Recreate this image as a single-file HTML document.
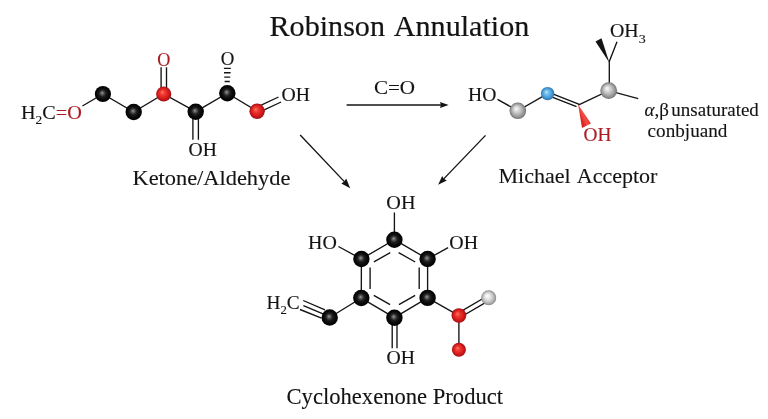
<!DOCTYPE html>
<html lang="en">
<head>
<meta charset="utf-8">
<title>Robinson Annulation</title>
<style>
  html, body { margin: 0; padding: 0; background: #ffffff; }
  body { width: 768px; height: 419px; overflow: hidden; }
  svg { display: block; will-change: transform; }
  text { font-family: "Liberation Serif", "Times New Roman", serif; fill: #141414; stroke: #141414; stroke-width: 0.12px; }
  #title { stroke-width: 0.2px; }
  .bond { stroke: #141414; stroke-width: 1.35; fill: none; stroke-linecap: butt; }
  .red, .red tspan { fill: #a81c22; stroke: #a81c22; }
</style>
</head>
<body>
<svg width="768" height="419" viewBox="0 0 768 419">
  <defs>
    <radialGradient id="gBlack" cx="0.5" cy="0.5" r="0.5" fx="0.45" fy="0.43">
      <stop offset="0" stop-color="#9a9a9a"/>
      <stop offset="0.18" stop-color="#5e5e5e"/>
      <stop offset="0.42" stop-color="#1e1e1e"/>
      <stop offset="0.7" stop-color="#0a0a0a"/>
      <stop offset="1" stop-color="#000000"/>
    </radialGradient>
    <radialGradient id="gRed" cx="0.5" cy="0.5" r="0.5" fx="0.39" fy="0.37">
      <stop offset="0" stop-color="#fb7a68"/>
      <stop offset="0.3" stop-color="#ee3c32"/>
      <stop offset="0.62" stop-color="#de201e"/>
      <stop offset="0.88" stop-color="#b81418"/>
      <stop offset="1" stop-color="#9a1018"/>
    </radialGradient>
    <radialGradient id="gGray" cx="0.5" cy="0.5" r="0.5" fx="0.39" fy="0.35">
      <stop offset="0" stop-color="#fbfbfb"/>
      <stop offset="0.28" stop-color="#dcdcdc"/>
      <stop offset="0.62" stop-color="#b0b0b0"/>
      <stop offset="0.9" stop-color="#858585"/>
      <stop offset="1" stop-color="#6c6c6c"/>
    </radialGradient>
    <radialGradient id="gBlue" cx="0.5" cy="0.5" r="0.5" fx="0.40" fy="0.37">
      <stop offset="0" stop-color="#c4e8fb"/>
      <stop offset="0.3" stop-color="#78c0ec"/>
      <stop offset="0.65" stop-color="#4ba0da"/>
      <stop offset="0.9" stop-color="#3782bd"/>
      <stop offset="1" stop-color="#2e6fa6"/>
    </radialGradient>
    <radialGradient id="gGray2" cx="0.5" cy="0.5" r="0.5" fx="0.39" fy="0.35">
      <stop offset="0" stop-color="#ffffff"/>
      <stop offset="0.3" stop-color="#ececec"/>
      <stop offset="0.65" stop-color="#c6c6c6"/>
      <stop offset="0.9" stop-color="#9c9c9c"/>
      <stop offset="1" stop-color="#868686"/>
    </radialGradient>
    <linearGradient id="gWedge" gradientUnits="userSpaceOnUse" x1="580" y1="118.5" x2="588" y2="114.8">
      <stop offset="0" stop-color="#d8201e"/>
      <stop offset="0.5" stop-color="#f24e44"/>
      <stop offset="1" stop-color="#e02824"/>
    </linearGradient>
  </defs>

  <rect x="0" y="0" width="768" height="419" fill="#ffffff"/>

  <!-- ============ Ketone / Aldehyde (top-left) ============ -->
  <g id="ketone">
    <path class="bond" d="M82.4 106 L102.9 94 L133.7 112 L163.7 94 L195.7 111.7 L227.3 93.2 L257.1 111.2"/>
    <path class="bond" d="M161.1 67.3 V90 M166.5 67.3 V90"/>
    <path class="bond" d="M192.9 114 V139.8 M198.4 114 V139.8"/>
    <path class="bond" stroke-width="1.3" d="M223.9 68.4 H230.8 M224 72.7 H230.6 M224.2 77.1 H230.2 M224.6 81.5 H229.8"/>
    <path class="bond" d="M258 106.6 L278.5 97 M260.5 111.7 L281.1 102"/>
    <circle cx="102.9" cy="94" r="8.1" fill="url(#gBlack)"/>
    <circle cx="133.7" cy="112" r="8.2" fill="url(#gBlack)"/>
    <circle cx="163.7" cy="94" r="7.6" fill="url(#gRed)"/>
    <circle cx="195.7" cy="111.7" r="8.2" fill="url(#gBlack)"/>
    <circle cx="227.3" cy="93.2" r="8.2" fill="url(#gBlack)"/>
    <circle cx="257.1" cy="111.2" r="7.7" fill="url(#gRed)"/>
  </g>

  <!-- ============ Arrows ============ -->
  <g id="arrows">
    <path class="bond" stroke-width="1.45" d="M346.6 105 H442"/>
    <path d="M448.7 105 L439.9 102 L441 105 L439.9 108 Z" fill="#141414"/>
    <path class="bond" stroke-width="1.45" d="M300.2 135 L344.6 181.9"/>
    <path d="M350.2 188.2 L341.3 183.6 L344.3 181.6 L346.2 178.5 Z" fill="#141414"/>
    <path class="bond" stroke-width="1.45" d="M485.5 135.4 L443.5 179.1"/>
    <path d="M438.1 184.8 L442.2 176.1 L443.85 178.7 L446.8 180.4 Z" fill="#141414"/>
  </g>

  <!-- ============ Michael Acceptor (top-right) ============ -->
  <g id="michael">
    <path class="bond" d="M497.5 99.3 L517.8 110.8 L547.6 93.6"/>
    <path class="bond" d="M548.16 92.16 L579.32 104.27 M547.04 95.04 L576.52 106.51"/>
    <path class="bond" d="M578.2 105.2 L608.7 90.6 L638.2 98.7"/>
    <path class="bond" d="M609.3 90.6 V61.5 L617 41.8"/>
    <path d="M609.4 62.8 L595.5 41.5 L601.5 38.3 Z" fill="#141414"/>
    <path d="M578.1 104.6 L582 128 L590.9 123.4 Z" fill="url(#gWedge)"/>
    <circle cx="517.8" cy="110.8" r="8.3" fill="url(#gGray)"/>
    <circle cx="547.6" cy="93.6" r="6.7" fill="url(#gBlue)"/>
    <circle cx="608.7" cy="90.6" r="8.4" fill="url(#gGray)"/>
  </g>

  <!-- ============ Cyclohexenone Product (bottom) ============ -->
  <g id="product">
    <path class="bond" d="M394.4 239.7 L427.6 259.0 L427.6 297.9 L394.4 317.7 L361.3 298.0 L361.4 259.0 Z"/>
    <path class="bond" d="M398.6 252.6 L415.2 262 M419.2 267.4 V289 M415.2 295.3 L398.9 304.6 M390.1 304.6 L373.8 295.3 M370.1 289 V267.4 M373.9 261.9 L390.3 252.6"/>
    <path class="bond" d="M394.4 239.7 V212.5"/>
    <path class="bond" d="M361.4 259.0 L338.4 246.5"/>
    <path class="bond" d="M427.6 259.0 L448.1 247.7"/>
    <path class="bond" d="M392.2 320 V348.2 M397 320 V348.2"/>
    <path class="bond" d="M361.3 298.0 L329.7 317.5"/>
    <path class="bond" stroke-width="1.25" d="M303.2 300.5 L325 309.8 M303.4 305.6 L323 313.9 M300 309.5 L321.5 318.2"/>
    <path class="bond" d="M427.6 297.9 L458.9 315.6 V349.8"/>
    <path class="bond" d="M457.6 313.3 L487.3 296 M460 317.5 L489.7 300.2"/>
    <circle cx="394.4" cy="239.7" r="8.2" fill="url(#gBlack)"/>
    <circle cx="427.6" cy="259.0" r="8.2" fill="url(#gBlack)"/>
    <circle cx="427.6" cy="297.9" r="8.2" fill="url(#gBlack)"/>
    <circle cx="394.4" cy="317.7" r="8.2" fill="url(#gBlack)"/>
    <circle cx="361.3" cy="298.0" r="8.2" fill="url(#gBlack)"/>
    <circle cx="361.4" cy="259.0" r="8.2" fill="url(#gBlack)"/>
    <circle cx="329.7" cy="317.5" r="8.2" fill="url(#gBlack)"/>
    <circle cx="458.9" cy="315.6" r="7.4" fill="url(#gRed)"/>
    <circle cx="458.9" cy="349.8" r="7.0" fill="url(#gRed)"/>
    <circle cx="488.7" cy="297.8" r="7.5" fill="url(#gGray2)"/>
  </g>

  <g id="labels">
    <text id="title" font-size="29.7" transform="translate(269.50 36.45) scale(1.0145 1)"><tspan word-spacing="2.9">Robinson Annulation</tspan></text>
    <text id="h2co" font-size="18.8" transform="translate(21.00 119.40) scale(1.0767 1)">H<tspan font-size="0.66em" dy="0.34em">2</tspan><tspan dy="-0.2234em">C</tspan><tspan class="red">=O</tspan></text>
    <text id="ored" class="red" font-size="18.2" transform="translate(157.20 65.60) scale(0.9969 1)">O</text>
    <text id="oblk" font-size="17.8" transform="translate(220.80 64.90) scale(1.0589 1)">O</text>
    <text id="oh_r" font-size="18.8" transform="translate(281.50 101.20) scale(1.0501 1)">OH</text>
    <text id="oh_d" font-size="18.4" transform="translate(188.60 155.80) scale(1.0654 1)">OH</text>
    <text id="ket" font-size="20.6" transform="translate(132.50 184.75) scale(1.0870 1)">Ketone/Aldehyde</text>
    <text id="co" font-size="19.7" transform="translate(373.90 94.30) scale(1.0714 1)">C=O</text>
    <text id="ho_m" font-size="18.4" transform="translate(468.00 101.40) scale(1.0654 1)">HO</text>
    <text id="oh3" font-size="18.0" transform="translate(610.00 37.40) scale(1.1054 1)">OH<tspan font-size="0.7em" dy="0.43em">3</tspan></text>
    <text id="ohred" class="red" font-size="17.8" transform="translate(583.60 140.60) scale(1.0861 1)">OH</text>
    <text id="ab" font-size="18.0" transform="translate(644.40 116.30) scale(1.0555 1)"><tspan word-spacing="-2.1"><tspan font-style="italic">α</tspan>,β unsaturated</tspan></text>
    <text id="conb" font-size="18.5" transform="translate(647.60 137.00) scale(1.0355 1)">conbjuand</text>
    <text id="mich" font-size="22.0" transform="translate(498.50 183.30) scale(1.0001 1)"><tspan word-spacing="1.9">Michael Acceptor</tspan></text>
    <text id="oh_t" font-size="19.1" transform="translate(386.30 209.05) scale(1.0588 1)">OH</text>
    <text id="ho_l" font-size="18.8" transform="translate(308.00 248.70) scale(1.0611 1)">HO</text>
    <text id="oh_pr" font-size="18.8" transform="translate(449.30 248.70) scale(1.0611 1)">OH</text>
    <text id="oh_b" font-size="19.0" transform="translate(386.60 364.20) scale(1.0381 1)">OH</text>
    <text id="h2c" font-size="19.4" transform="translate(266.50 308.75) scale(0.9952 1)">H<tspan font-size="0.66em" dy="0.40em">2</tspan><tspan dy="-0.264em">C</tspan></text>
    <text id="cyc" font-size="22.4" transform="translate(286.50 404.10) scale(1.0092 1)">Cyclohexenone Product</text>
  </g>
</svg>
</body>
</html>
